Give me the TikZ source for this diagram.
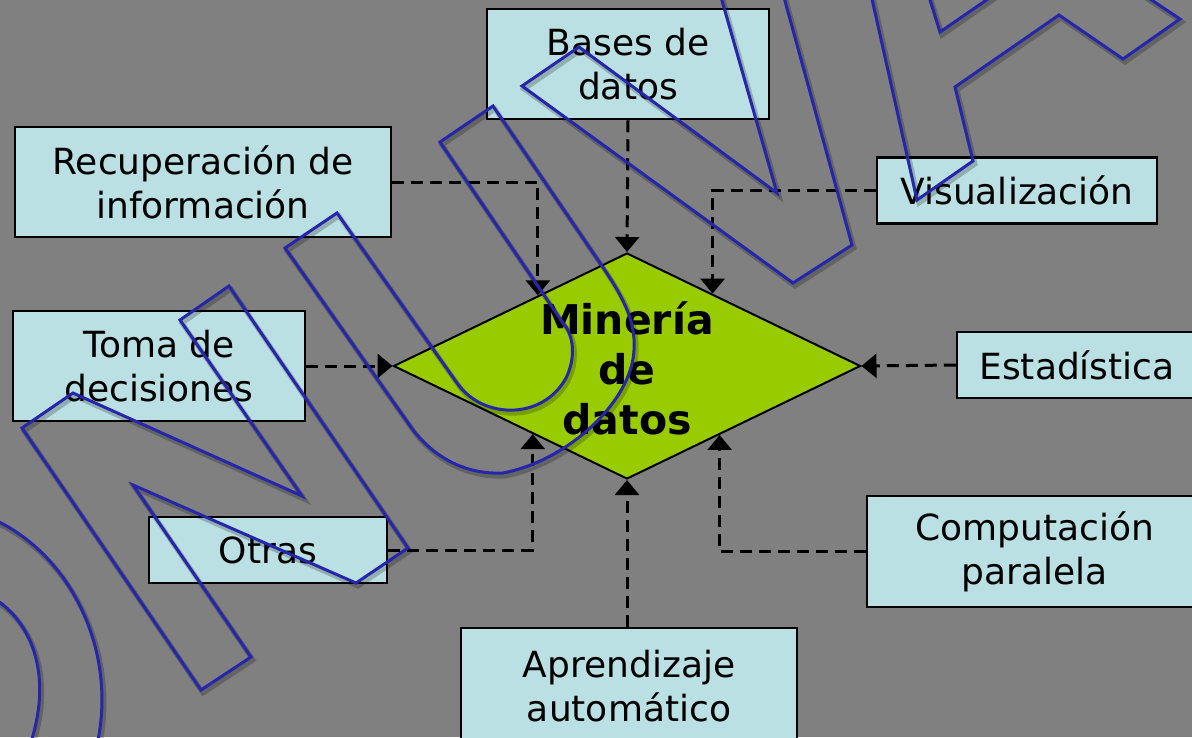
\documentclass[tikz,border=0pt]{standalone}
\usepackage{fontspec}
\setmainfont{DejaVu Sans}
\usetikzlibrary{shapes.geometric,arrows.meta,calc}
\definecolor{bg}{RGB}{128,128,128}
\definecolor{boxfill}{RGB}{186,224,227}
\definecolor{dmfill}{RGB}{153,204,0}
\definecolor{wmblue}{RGB}{38,38,170}
\def\pathU{(285,248) -- (337,213) -- (457,383) .. controls (483,420) and (543,420) .. (566,378) .. controls (576,358) and (574,335) .. (563,323) -- (440,142) -- (493,106) -- (600,263) .. controls (622,295) and (636,320) .. (634,350) .. controls (632,400) and (570,460) .. (503,473) .. controls (460,475) and (430,452) .. (413,430) -- cycle}
\def\pathN{(180,320) -- (229,286) -- (408,548) -- (356,583) -- (133,485) -- (251,657) -- (201,690) -- (22,428) -- (73,393) -- (302,496) -- cycle}
\def\pathV{(719,-10) -- (777,193) -- (579,47) -- (522,86) -- (793,283) -- (852,245) -- (782,-10)}
\def\pathE{(870,-10) -- (917,200) -- (973,161) -- (955,87) -- (1059,15) -- (1123,59) -- (1180,19) -- (1135,-11)}
\def\pathEb{(927,-10) -- (940,32) -- (1001,-10)}
\def\pathArcA{(-5,520) .. controls (70,555) and (118,650) .. (97,745)}
\def\pathArcB{(-5,599) .. controls (35,625) and (52,680) .. (30,745)}
\begin{document}
\begin{tikzpicture}[x=1pt,y=-1pt,
 box/.style={draw=black,line width=2.5pt,fill=boxfill,align=center,inner sep=0pt,font=\fontsize{36}{44}\selectfont},
 conn/.style={draw=black,line width=3pt,dash pattern=on 12pt off 7pt,-{Triangle[width=24pt,length=15pt]}},
 wm/.style={draw=wmblue,line width=3pt,line join=miter},
 wmshadow/.style={draw=black,opacity=0.22,line width=5pt,line join=miter}
]
\fill[bg] (0,0) rectangle (1192,737);
\useasboundingbox (0,0) rectangle (1192,737);
\clip (0,0) rectangle (1192,737);
% diamond
\node[diamond,draw=black,line width=2pt,fill=dmfill,minimum width=467pt,minimum height=226pt,inner sep=0pt,aspect=2.066] (dm) at (627,366) {};
\node[font=\fontsize{41}{50}\selectfont\bfseries,align=center,inner sep=0pt] (dmtext) at (627,368) {Minería\\de\\datos};
% boxes
\node[box,minimum width=282pt,minimum height=110pt] (bases) at (628,64) {Bases de\\datos};
\node[box,minimum width=376pt,minimum height=110pt] (rec) at (203,182) {Recuperación de\\información};
\node[box,minimum width=280pt,minimum height=66pt] (vis) at (1017,190.5) {Visualización};
\node[box,minimum width=292pt,minimum height=110pt] (toma) at (159,366) {Toma de\\decisiones};
\node[box,minimum width=240pt,minimum height=66pt] (est) at (1077,365) {Estadística};
\node[box,minimum width=238pt,minimum height=66pt] (otras) at (268,550) {Otras};
\node[box,minimum width=335pt,minimum height=111pt] (comp) at (1034.5,551.5) {Computación\\paralela};
\node[box,minimum width=336pt,minimum height=117pt] (apr) at (629,686.5) {Aprendizaje\\automático};
% connectors
\draw[conn] (bases.south) -- (dm.north);
\draw[conn] (rec.east) -| ($(dm.west)!0.62!(dm.north)$);
\draw[conn] (vis.west) -| ($(dm.north)!0.365!(dm.east)$);
\draw[conn] (toma.east) -- (dm.west);
\draw[conn] (est.west) -- (dm.east);
\draw[conn] (otras.east) -| ($(dm.west)!0.598!(dm.south)$);
\draw[conn] (comp.west) -| ($(dm.south)!0.395!(dm.east)$);
\draw[conn] (dm.south |- apr.north) -- (dm.south);
% watermark
\begin{scope}[shift={(2,3)}]
\draw[wmshadow] \pathU;
\draw[wmshadow] \pathN;
\draw[wmshadow] \pathV;
\draw[wmshadow] \pathE;
\draw[wmshadow] \pathEb;
\draw[wmshadow] \pathArcA;
\draw[wmshadow] \pathArcB;
\end{scope}
\draw[wm] \pathU;
\draw[wm] \pathN;
\draw[wm] \pathV;
\draw[wm] \pathE;
\draw[wm] \pathEb;
\draw[wm] \pathArcA;
\draw[wm] \pathArcB;
\end{tikzpicture}
\end{document}
